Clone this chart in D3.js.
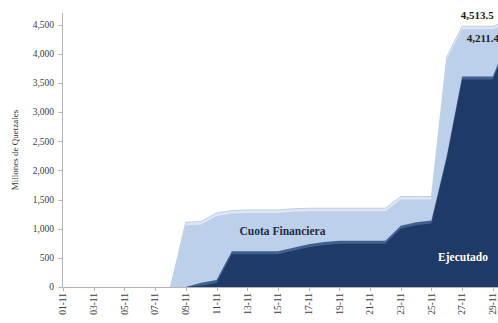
<!DOCTYPE html>
<html>
<head>
<meta charset="utf-8">
<script src="https://cdn.jsdelivr.net/npm/d3@7"></script>
<style>
html,body{margin:0;padding:0;background:#fff;}
svg{display:block;overflow:hidden;}
</style>
</head>
<body>
<svg id="chart" width="498" height="323"></svg>
<script>
// Days of November (1..30)
const days = d3.range(1, 31);
// Cuota Financiera (millones de quetzales)
const cuota = [0,0,0,0,0,0,0,0,1060,1070,1220,1260,1270,1270,1270,1290,1300,1300,1300,1300,1300,1300,1500,1500,1500,3900,4420,4420,4420,4513.5];
// Ejecutado (millones de quetzales)
const ejecutado = [0,0,0,0,0,0,0,0,0,20,70,560,560,560,560,620,680,720,740,740,740,740,1000,1060,1090,2200,3560,3560,3560,4211.4];
const yTicks = [0,500,1000,1500,2000,2500,3000,3500,4000,4500];
const xTickDays = [1,3,5,7,9,11,13,15,17,19,21,23,25,27,29];
const xTickLabels = ["01-11","03-11","05-11","07-11","09-11","11-11","13-11","15-11","17-11","19-11","21-11","23-11","25-11","27-11","29-11"];

const svg = d3.select("#chart");
const x = d3.scaleLinear().domain([1, 30]).range([63, 508.2]);
const y = d3.scaleLinear().domain([0, 4700]).range([287, 13]);
const fmt = d3.format(",");

const cData = days.map((d,i)=>({d, v:cuota[i]}));
const eData = days.map((d,i)=>({d, v:ejecutado[i]}));

// 3D depth (top face) thickness in px
const depth = 3;

const area = d3.area().x(p=>x(p.d)).y0(y(0)).y1(p=>y(p.v));
const backArea = d3.area().x(p=>x(p.d)).y0(y(0)).y1(p=>p.v > 0 ? y(p.v) - depth : y(0));
const backLine = d3.line().x(p=>x(p.d)).y(p=>p.v > 0 ? y(p.v) - depth : y(0));

// Cuota top face
svg.append("path").datum(cData).attr("d", backArea).attr("fill", "#dde7f3");
svg.append("path").datum(cData.filter((p,i)=>i>=7)).attr("d", backLine)
  .attr("fill", "none").attr("stroke", "#b3c4dc").attr("stroke-width", 0.8);
// Cuota front face
svg.append("path").datum(cData).attr("d", area).attr("fill", "#bcd0e9");

// Ejecutado top face
svg.append("path").datum(eData).attr("d", backArea).attr("fill", "#40618f");
// Ejecutado front face
svg.append("path").datum(eData).attr("d", area).attr("fill", "#1e3a66");

// Axes
const axisColor = "#b5b5b5";
svg.append("line").attr("x1", 62.5).attr("x2", 62.5).attr("y1", y(4700)).attr("y2", y(0))
  .attr("stroke", axisColor).attr("stroke-width", 1);
svg.append("line").attr("x1", 62.5).attr("x2", 498).attr("y1", y(0)+0.5).attr("y2", y(0)+0.5)
  .attr("stroke", axisColor).attr("stroke-width", 1);

const yg = svg.append("g");
yTicks.forEach(t=>{
  yg.append("line").attr("x1", 58.5).attr("x2", 62.5).attr("y1", Math.round(y(t))+0.5).attr("y2", Math.round(y(t))+0.5)
    .attr("stroke", axisColor);
  yg.append("text").attr("x", 54).attr("y", y(t)+3.3)
    .attr("text-anchor", "end")
    .attr("font-family", "'Liberation Serif','Times New Roman',serif")
    .attr("font-size", 9.5).attr("fill", "#404040")
    .text(fmt(t));
});

const xg = svg.append("g");
xTickDays.forEach((d,i)=>{
  const px = Math.round(x(d))+0.5;
  xg.append("line").attr("x1", px).attr("x2", px).attr("y1", y(0)).attr("y2", y(0)+4)
    .attr("stroke", axisColor);
  xg.append("text")
    .attr("transform", `translate(${x(d)+3.3},${y(0)+6}) rotate(-90)`)
    .attr("text-anchor", "end")
    .attr("font-family", "'Liberation Serif','Times New Roman',serif")
    .attr("font-size", 9.5).attr("fill", "#404040")
    .text(xTickLabels[i]);
});

// Y axis title
svg.append("text")
  .attr("transform", "translate(18,150) rotate(-90)")
  .attr("text-anchor", "middle")
  .attr("font-family", "'Liberation Serif','Times New Roman',serif")
  .attr("font-size", 9).attr("fill", "#333")
  .text("Millones de Quetzales");

// Series labels
svg.append("text").attr("x", 282.5).attr("y", 235)
  .attr("text-anchor", "middle")
  .attr("font-family", "'Liberation Serif','Times New Roman',serif")
  .attr("font-weight", "bold").attr("font-size", 11.5).attr("fill", "#1c2c48")
  .text("Cuota Financiera");
svg.append("text").attr("x", 463).attr("y", 261)
  .attr("text-anchor", "middle")
  .attr("font-family", "'Liberation Serif','Times New Roman',serif")
  .attr("font-weight", "bold").attr("font-size", 11.5).attr("fill", "#ffffff")
  .text("Ejecutado");

// Value labels
const lastC = cuota[cuota.length-1], lastE = ejecutado[ejecutado.length-1];
svg.append("text").attr("x", x(30)-31).attr("y", y(lastC)-5)
  .attr("text-anchor", "middle")
  .attr("font-family", "'Liberation Serif','Times New Roman',serif")
  .attr("font-weight", "bold").attr("font-size", 11).attr("fill", "#222")
  .text(d3.format(",.1f")(lastC));
svg.append("text").attr("x", x(30)-41.5).attr("y", y(lastE)+1)
  .attr("text-anchor", "start")
  .attr("font-family", "'Liberation Serif','Times New Roman',serif")
  .attr("font-weight", "bold").attr("font-size", 11).attr("fill", "#222")
  .text(d3.format(",.1f")(lastE));
</script>
</body>
</html>
